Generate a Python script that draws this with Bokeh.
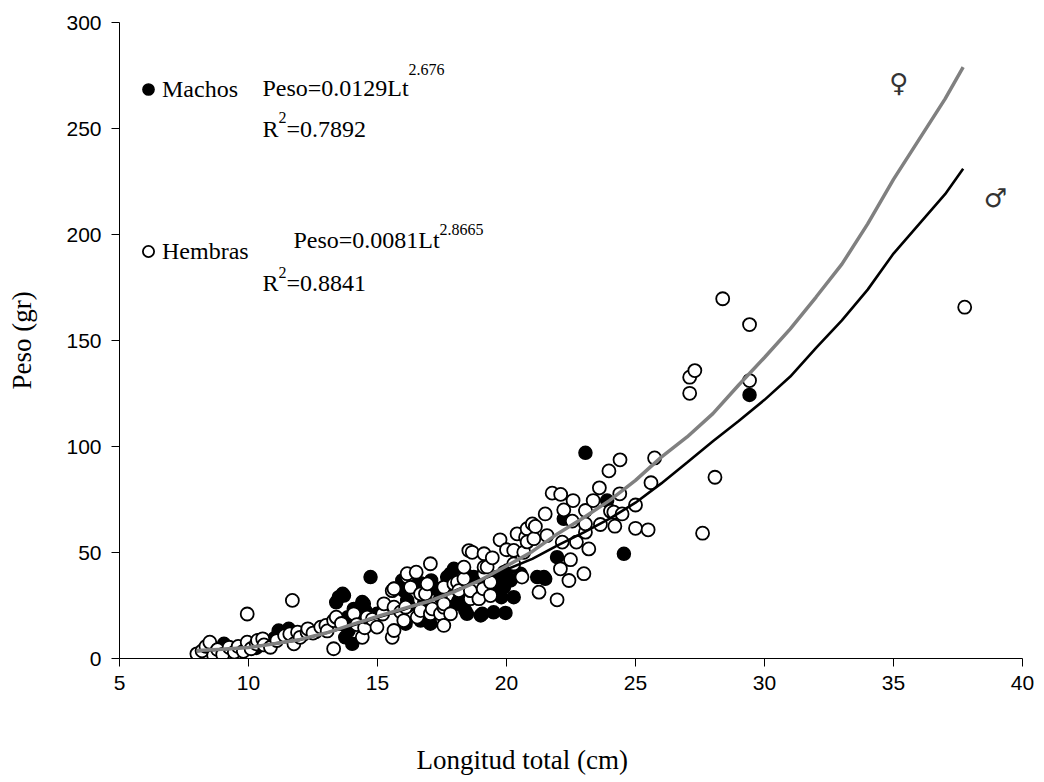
from bokeh.plotting import figure
from bokeh.models import Range1d, FixedTicker, Legend, LegendItem, Label, Title, LinearAxis
from bokeh.embed import file_html
from bokeh.resources import INLINE

# ---------------- data ----------------
x_ticks = [5, 10, 15, 20, 25, 30, 35, 40]
y_ticks = [0, 50, 100, 150, 200, 250, 300]

# Hembras (open circles): longitud total (cm), peso (gr)
hembras_lt = [8.0, 8.2, 8.35, 8.5, 8.65, 8.8, 9.0, 9.25, 9.45, 9.6, 9.8, 9.95, 9.95, 10.1, 10.3,
              10.35, 10.55, 10.6, 10.85, 11.1, 11.4, 11.6, 11.7, 11.76, 11.9, 12.0, 12.27, 12.3,
              12.5, 12.8, 13.0, 13.05, 13.3, 13.3, 13.4, 13.6, 14.08, 14.2, 14.41, 14.5, 14.6,
              14.8, 14.98, 15.2, 15.25, 15.57, 15.64, 15.64, 15.57, 15.64, 15.9, 16.02, 16.09,
              16.15, 16.15, 16.28, 16.5, 16.54, 16.67, 16.67, 16.86, 16.93, 17.05, 17.05, 17.12,
              17.44, 17.57, 17.57, 17.57, 17.57, 17.83, 17.96, 18.1, 18.15, 18.35, 18.35, 18.54,
              18.6, 18.6, 18.67, 18.93, 19.1, 19.13, 19.13, 19.13, 19.25, 19.38, 19.38, 19.45,
              19.75, 20.0, 20.28, 20.28, 20.41, 20.6, 20.67, 20.74, 20.8, 20.8, 21.0, 21.06,
              21.12, 21.26, 21.5, 21.57, 21.77, 22.1, 21.96, 22.09, 22.16, 22.22, 22.42, 22.48,
              22.55, 22.58, 22.71, 23.0, 23.06, 23.06, 23.06, 23.19, 23.36, 23.6, 23.64, 23.97,
              24.03, 24.16, 24.2, 24.39, 24.4, 24.48, 25.0, 25.0, 25.49, 25.6, 25.74, 27.1,
              27.1, 27.3, 27.6, 28.08, 28.38, 29.42, 29.42, 37.76]
hembras_peso = [2.2, 3.6, 5.7, 7.7, 1.4, 4.2, 1.9, 5.3, 3.0, 5.7, 3.4, 7.7, 21.0, 4.6, 6.9,
                8.5, 9.3, 6.4, 5.3, 8.5, 10.8, 11.6, 27.4, 6.9, 12.4, 10.0, 12.4, 14.0,
                12.0, 14.8, 15.6, 13.0, 4.6, 17.9, 19.5, 16.5, 21.1, 16.0, 10.0, 14.5, 19.5,
                18.5, 14.8, 21.0, 25.8, 10.0, 13.2, 24.2, 32.0, 32.9, 22.0, 17.9, 24.2,
                38.4, 40.0, 33.6, 40.7, 19.5, 22.6, 30.5, 30.5, 35.2, 21.1, 44.7, 23.4,
                21.1, 15.6, 24.2, 25.8, 33.6, 21.1, 35.2, 36.0, 32.0, 37.6, 43.1, 50.9,
                28.2, 32.0, 50.1, 28.2, 32.9, 40.0, 43.1, 49.4, 43.2, 29.7, 36.0, 47.5,
                56.0, 51.3, 44.6, 51.0, 58.8, 38.4, 50.1, 57.2, 61.2, 55.0, 63.5, 56.5,
                62.3, 31.3, 68.2, 58.0, 78.0, 77.4, 27.7, 42.3, 54.9, 70.1, 36.8, 46.6,
                64.8, 74.5, 54.9, 40.0, 59.6, 63.5, 69.8, 51.7, 74.5, 80.5, 63.2, 88.5,
                69.5, 69.0, 62.4, 77.7, 93.7, 68.2, 61.4, 72.4, 60.7, 82.9, 94.6, 125.1,
                132.7, 135.8, 59.1, 85.5, 169.7, 157.5, 131.1, 165.7]

# Machos (filled circles)
machos_lt = [8.7, 8.9, 9.05, 9.5, 9.9, 10.3, 10.9, 11.0, 11.17, 11.56, 12.1, 12.6, 13.4, 13.5,
             13.65, 13.7, 13.75, 13.85, 13.88, 14.0, 14.02, 14.08, 14.41, 14.47, 14.53, 14.73,
             14.98, 15.64, 15.96, 16.02, 16.09, 16.15, 16.2, 16.21, 16.21, 16.67, 16.67, 16.67,
             16.8, 17.05, 17.05, 17.08, 17.44, 17.44, 17.7, 17.83, 17.83, 17.83, 17.96, 18.08,
             18.15, 18.4, 18.47, 18.47, 18.73, 19.0, 19.0, 19.06, 19.12, 19.5, 19.5, 19.64,
             19.8, 19.9, 19.9, 19.9, 19.96, 20.03, 20.16, 20.28, 20.54, 21.19, 21.45, 21.5,
             21.96, 22.22, 23.06, 23.9, 24.55, 29.42]
machos_peso = [4.5, 3.0, 6.9, 4.0, 5.3, 5.0, 7.0, 9.5, 13.2, 14.0, 11.0, 12.5, 26.5, 28.9,
               30.5, 29.7, 10.0, 19.5, 13.2, 18.7, 6.9, 23.4, 26.6, 25.8, 22.6, 38.4,
               21.1, 32.9, 36.8, 32.0, 16.4, 27.4, 25.0, 33.6, 38.7, 17.9, 31.3, 35.5,
               25.8, 16.4, 32.9, 36.8, 28.9, 32.9, 38.4, 24.2, 35.2, 40.0, 42.3, 25.8,
               27.4, 22.6, 21.1, 39.2, 38.4, 20.3, 38.4, 21.1, 30.5, 21.8, 32.0, 38.4,
               28.9, 33.6, 35.2, 40.7, 21.5, 41.5, 36.8, 28.9, 40.0, 38.4, 38.4, 37.6,
               47.8, 65.9, 97.0, 74.5, 49.4, 124.3]

# Fitted curves
fit_lt = [8, 9, 10, 11, 12, 13, 14, 15, 16, 17, 18, 19, 20, 21, 22, 23, 24, 25, 26, 27,
          28, 29, 30, 31, 32, 33, 34, 35, 36, 37, 37.7]
fit_hembras = [3.8, 4.4, 5.2, 7.0, 9.0, 12.0, 16.0, 19.8, 23.5, 27.0, 31.6, 37.0, 43.6, 50.5,
               59.0, 66.5, 74.6, 84.0, 95.0, 104.5, 115.5, 129.0, 142.0, 155.5, 170.5, 186.0,
               205.0, 226.0, 245.0, 264.0, 279.0]
fit_machos = [3.5, 4.3, 5.3, 7.0, 8.8, 12.0, 15.5, 19.3, 23.0, 27.5, 32.0, 37.0, 42.0, 47.0,
              53.5, 59.5, 66.0, 73.5, 82.6, 92.5, 102.5, 112.0, 122.0, 133.0, 146.5, 159.5,
              174.0, 191.0, 205.0, 219.0, 231.0]

SERIF = "Liberation Serif"
SANS = "Liberation Sans"

p = figure(width=1044, height=782, x_range=Range1d(5, 40), y_range=Range1d(0, 300),
           output_backend="svg", toolbar_location=None,
           min_border_left=119, min_border_right=22, min_border_top=22, min_border_bottom=124)
p.outline_line_color = None
p.xgrid.visible = False
p.ygrid.visible = False
p.background_fill_color = "white"
p.border_fill_color = "white"

for ax in (p.xaxis[0], p.yaxis[0]):
    ax.axis_line_color = "black"
    ax.axis_line_width = 1
    ax.major_tick_line_color = "black"
    ax.major_tick_out = 8
    ax.major_tick_in = 0
    ax.minor_tick_out = 0
    ax.minor_tick_in = 0
    ax.major_label_text_font = SANS
    ax.major_label_text_font_size = "21px"
    ax.major_label_text_color = "black"
    ax.axis_label_text_font = SERIF
    ax.axis_label_text_font_size = "27px"
    ax.axis_label_text_font_style = "normal"
    ax.axis_label_text_color = "black"

p.xaxis.ticker = FixedTicker(ticks=x_ticks)
p.yaxis.ticker = FixedTicker(ticks=y_ticks)
p.yaxis.axis_label = "Peso (gr)"
p.xaxis.major_label_standoff = 9
p.yaxis.major_label_standoff = 10
p.yaxis.axis_label_standoff = 26

# invisible spacer below the x axis, so the title sits low like the original
spacer = LinearAxis(ticker=FixedTicker(ticks=[5]), major_label_overrides={5: ""},
                    axis_line_color=None, major_tick_line_color="white",
                    minor_tick_line_color=None, major_tick_out=50, major_tick_in=0,
                    minor_tick_out=0, minor_tick_in=0, major_label_standoff=0,
                    major_label_text_font_size="1px")
p.add_layout(spacer, "below")

# x axis title, centred under the whole chart as in the original
xt = Title(text="Longitud total (cm)", align="left", offset=297, standoff=0,
           vertical_align="bottom",
           text_font=SERIF, text_font_size="27px", text_font_style="normal",
           text_color="black")
p.add_layout(xt, "below")

r_m = p.scatter(machos_lt, machos_peso, size=13, marker="circle",
                fill_color="black", line_color="black", line_width=1.5)
r_h = p.scatter(hembras_lt, hembras_peso, size=13, marker="circle",
                fill_color="white", line_color="black", line_width=1.8)

p.line(fit_lt, fit_machos, line_color="black", line_width=2.6)
p.line(fit_lt, fit_hembras, line_color="#808080", line_width=3.5)

# legends (one per series, placed like the original)
for label, rend, loc in (("Machos", r_m, (15, 555)), ("Hembras", r_h, (15, 393))):
    lg = Legend(items=[LegendItem(label=label, renderers=[rend])], location=loc,
                orientation="vertical")
    lg.label_text_font = SERIF
    lg.label_text_font_size = "24px"
    lg.label_text_color = "black"
    lg.border_line_color = None
    lg.background_fill_alpha = 0
    lg.padding = 0
    lg.margin = 0
    lg.spacing = 0
    lg.glyph_width = 28
    lg.glyph_height = 28
    lg.label_standoff = 0
    p.add_layout(lg, "center")

def txt(x, y, s, size, font=SERIF, color="black", align="left"):
    p.add_layout(Label(x=x, y=y, text=s, text_font=font, text_font_size=size,
                       text_color=color, text_baseline="middle", text_align=align))

# Machos equation
txt(10.54, 268.9, "Peso=0.0129Lt", "24px")
txt(16.2, 277.6, "2.676", "16px")
txt(10.54, 250.0, "R", "24px")
txt(11.16, 255.4, "2", "16px")
txt(11.47, 250.0, "=0.7892", "24px")
# Hembras equation
txt(11.74, 197.2, "Peso=0.0081Lt", "24px")
txt(17.40, 202.2, "2.8665", "16px")
txt(10.54, 176.9, "R", "24px")
txt(11.16, 182.3, "2", "16px")
txt(11.47, 176.9, "=0.8841", "24px")

# sex symbols
txt(35.2, 271.5, "\u2640", "26px", font="DejaVu Sans", color="#333333", align="center")
txt(38.95, 217.0, "\u2642", "26px", font="DejaVu Sans", color="#333333", align="center")

open("out.html", "w").write(file_html(p, INLINE))
